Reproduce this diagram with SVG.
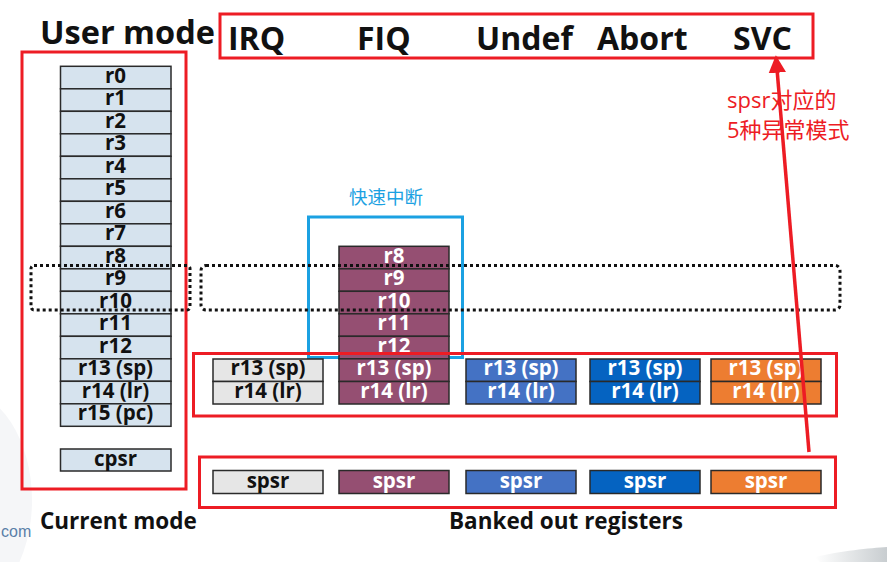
<svg xmlns="http://www.w3.org/2000/svg" width="887" height="562" viewBox="0 0 887 562">
<defs>
<style>
.t{font-family:"Open Sans","Liberation Sans",sans-serif;font-weight:bold;}
.reg{font-family:"Open Sans","Liberation Sans",sans-serif;font-weight:bold;font-size:20.5px;text-anchor:middle;}
.dk{fill:#111;}
.wt{fill:#fff;}
.cell{stroke:#2a2a2a;stroke-width:1.5;}
.u{fill:#D6E3EE;}
.g{fill:#E6E6E6;}
.p{fill:#954F72;}
.b{fill:#4472C4;}
.d{fill:#0563C1;}
.o{fill:#ED7D31;}
.red{fill:none;stroke:#ED1C24;stroke-width:3;}
.dot{fill:none;stroke:#111;stroke-width:3;stroke-dasharray:3 3;}
.mode{font-family:"Open Sans","Liberation Sans",sans-serif;font-weight:bold;font-size:32px;fill:#111;}
.cjk{font-family:"Open Sans","Noto Sans CJK SC",sans-serif;}
</style>
<marker id="ah" viewBox="0 0 10 10" refX="9" refY="5" markerWidth="5" markerHeight="5" orient="auto" markerUnits="strokeWidth">
<path d="M0,0 L10,5 L0,10 z" fill="#ED1C24"/>
</marker>
<linearGradient id="sw" x1="0" y1="0" x2="1" y2="0">
<stop offset="0" stop-color="#ffffff"/>
<stop offset="1" stop-color="#c8cdd0"/>
</linearGradient>
</defs>
<rect width="887" height="562" fill="#fff"/>
<g id="background">
<ellipse cx="-40" cy="500" rx="72" ry="110" fill="#f5f6f8"/>
<path d="M815,557 C840,551 870,548 887,547 L887,562 L820,562 Z" fill="url(#sw)"/>
<text x="1" y="537" font-family="Liberation Sans,sans-serif" font-size="16" fill="#5a7fa8">com</text>
</g>

<g id="title-user-mode"><text class="t dk" x="40" y="44" font-size="32.5">User mode</text></g>

<g id="modes">
<rect class="red" x="220" y="14" width="593" height="44"/>
<text class="mode" x="228" y="50">IRQ</text>
<text class="mode" x="357" y="50">FIQ</text>
<text class="mode" x="476" y="50">Undef</text>
<text class="mode" x="597" y="50">Abort</text>
<text class="mode" x="733" y="50">SVC</text>
</g>

<g id="current-mode">
<rect class="red" x="22" y="52" width="164" height="437"/>
<g class="cell u">
<rect x="60.5" y="66.3" width="110.5" height="22.5"/>
<rect x="60.5" y="88.8" width="110.5" height="22.5"/>
<rect x="60.5" y="111.3" width="110.5" height="22.5"/>
<rect x="60.5" y="133.8" width="110.5" height="22.5"/>
<rect x="60.5" y="156.3" width="110.5" height="22.5"/>
<rect x="60.5" y="178.8" width="110.5" height="22.5"/>
<rect x="60.5" y="201.3" width="110.5" height="22.5"/>
<rect x="60.5" y="223.8" width="110.5" height="22.5"/>
<rect x="60.5" y="246.3" width="110.5" height="22.5"/>
<rect x="60.5" y="268.8" width="110.5" height="22.5"/>
<rect x="60.5" y="291.3" width="110.5" height="22.5"/>
<rect x="60.5" y="313.8" width="110.5" height="22.5"/>
<rect x="60.5" y="336.3" width="110.5" height="22.5"/>
<rect x="60.5" y="358.8" width="110.5" height="22.5"/>
<rect x="60.5" y="381.3" width="110.5" height="22.5"/>
<rect x="60.5" y="403.8" width="110.5" height="22.5"/>
<rect x="60.5" y="449" width="110.5" height="22"/>
</g>
<g class="reg dk">
<text x="115.5" y="82.5">r0</text>
<text x="115.5" y="105">r1</text>
<text x="115.5" y="127.5">r2</text>
<text x="115.5" y="150">r3</text>
<text x="115.5" y="172.5">r4</text>
<text x="115.5" y="195">r5</text>
<text x="115.5" y="217.5">r6</text>
<text x="115.5" y="240">r7</text>
<text x="115.5" y="262.5">r8</text>
<text x="115.5" y="285">r9</text>
<text x="115.5" y="307.5">r10</text>
<text x="115.5" y="330">r11</text>
<text x="115.5" y="352.5">r12</text>
<text x="115.5" y="375">r13 (sp)</text>
<text x="115.5" y="397.5">r14 (lr)</text>
<text x="115.5" y="420">r15 (pc)</text>
<text x="115.5" y="465.5">cpsr</text>
</g>
</g>

<g id="fiq-group-label">
<rect x="308.5" y="217" width="154" height="140.5" fill="none" stroke="#1BA1E2" stroke-width="3"/>
<text class="cjk" x="386" y="204" font-size="18.5" fill="#1BA1E2" text-anchor="middle">快速中断</text>
</g>

<g id="fiq-regs">
<g class="cell p">
<rect x="339" y="246.3" width="110" height="22.5"/>
<rect x="339" y="268.8" width="110" height="22.5"/>
<rect x="339" y="291.3" width="110" height="22.5"/>
<rect x="339" y="313.8" width="110" height="22.5"/>
<rect x="339" y="336.3" width="110" height="22.5"/>
</g>
<g class="reg wt">
<text x="394" y="262.5">r8</text>
<text x="394" y="285">r9</text>
<text x="394" y="307.5">r10</text>
<text x="394" y="330">r11</text>
<text x="394" y="352.5">r12</text>
</g>
</g>

<g id="dotted-r9-r10">
<rect class="dot" x="31" y="265.5" width="159" height="44.5" rx="3"/>
<rect class="dot" x="201" y="265.5" width="639" height="44.5" rx="5"/>
</g>

<g id="banked-sp-lr">
<rect class="red" x="193.5" y="353.5" width="643" height="62.5"/>
<g class="cell">
<rect class="g" x="213" y="359" width="110" height="22.5"/>
<rect class="g" x="213" y="381.5" width="110" height="22.5"/>
<rect class="p" x="339" y="358.8" width="110" height="22.7"/>
<rect class="p" x="339" y="381.5" width="110" height="22.5"/>
<rect class="b" x="466" y="359" width="110" height="22.5"/>
<rect class="b" x="466" y="381.5" width="110" height="22.5"/>
<rect class="d" x="590" y="359" width="110" height="22.5"/>
<rect class="d" x="590" y="381.5" width="110" height="22.5"/>
<rect class="o" x="711" y="359" width="110" height="22.5"/>
<rect class="o" x="711" y="381.5" width="110" height="22.5"/>
</g>
<g class="reg">
<text class="dk" x="268" y="375">r13 (sp)</text>
<text class="dk" x="268" y="397.5">r14 (lr)</text>
<text class="wt" x="394" y="375">r13 (sp)</text>
<text class="wt" x="394" y="397.5">r14 (lr)</text>
<text class="wt" x="521" y="375">r13 (sp)</text>
<text class="wt" x="521" y="397.5">r14 (lr)</text>
<text class="wt" x="645" y="375">r13 (sp)</text>
<text class="wt" x="645" y="397.5">r14 (lr)</text>
<text class="wt" x="766" y="375">r13 (sp)</text>
<text class="wt" x="766" y="397.5">r14 (lr)</text>
</g>
</g>

<g id="banked-spsr">
<rect class="red" x="199.5" y="457" width="636" height="50.5"/>
<g class="cell">
<rect class="g" x="213" y="470.5" width="110" height="23"/>
<rect class="p" x="339" y="470.5" width="110" height="23"/>
<rect class="b" x="466" y="470.5" width="110" height="23"/>
<rect class="d" x="590" y="470.5" width="110" height="23"/>
<rect class="o" x="711" y="470.5" width="110" height="23"/>
</g>
<g class="reg">
<text class="dk" x="268" y="487.5">spsr</text>
<text class="wt" x="394" y="487.5">spsr</text>
<text class="wt" x="521" y="487.5">spsr</text>
<text class="wt" x="645" y="487.5">spsr</text>
<text class="wt" x="766" y="487.5">spsr</text>
</g>
</g>

<g id="labels">
<text class="t dk" x="40" y="529" font-size="22.5">Current mode</text>
<text class="t dk" x="449" y="529" font-size="22.5">Banked out registers</text>
</g>

<g id="annotation">
<text class="cjk" x="727" y="108" font-size="22" fill="#ED1C24">spsr对应的</text>
<text class="cjk" x="727" y="138" font-size="22" fill="#ED1C24">5种异常模式</text>
</g>

<g id="connectors">
<line x1="809" y1="452" x2="776" y2="57" stroke="#ED1C24" stroke-width="3.5" marker-end="url(#ah)"/>
</g>
</svg>
